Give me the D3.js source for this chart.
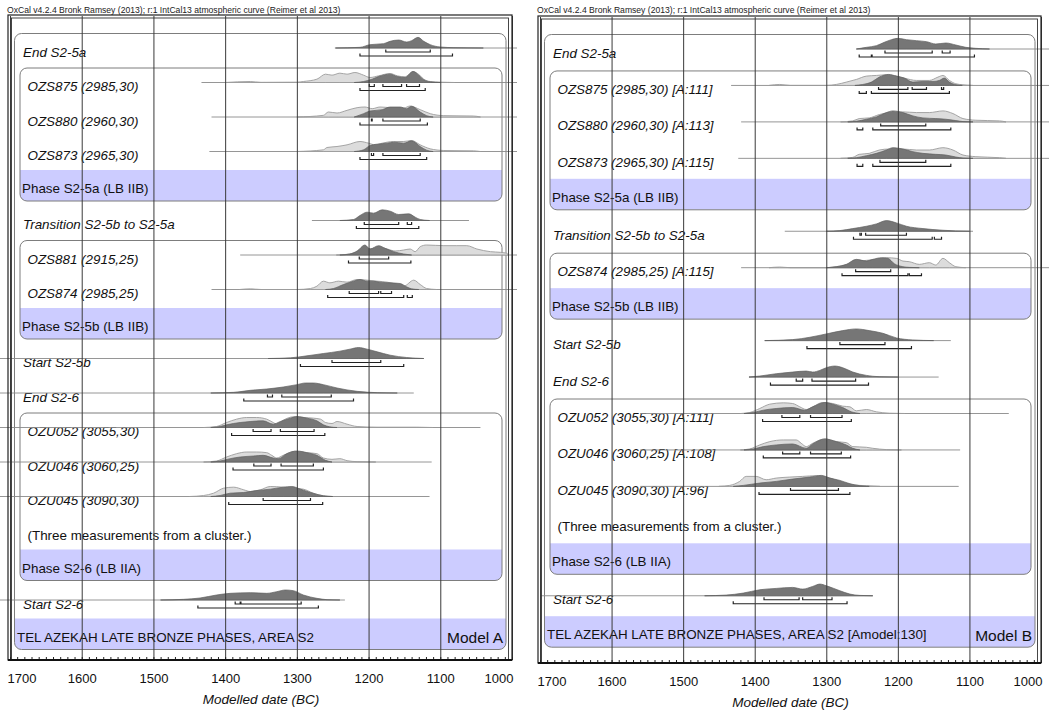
<!DOCTYPE html>
<html>
<head>
<meta charset="utf-8">
<script src="https://cdn.jsdelivr.net/npm/d3@7"></script>
<style>
  body { margin: 0; background: #fff; }
  svg { display: block; font-family: "Liberation Sans", Arial, sans-serif; }
</style>
</head>
<body>
<svg id="chart" width="1049" height="710"></svg>
<script>
// ---------- data (years BC, relative probability) ----------
const titleText = 'OxCal v4.2.4 Bronk Ramsey (2013); r:1 IntCal13 atmospheric curve (Reimer et al 2013)';
const axisYears = [1700, 1600, 1500, 1400, 1300, 1200, 1100, 1000];

// Model A
const labelsA = [
  'End S2-5a', 'OZS875 (2985,30)', 'OZS880 (2960,30)', 'OZS873 (2965,30)', 'Phase S2-5a (LB IIB)',
  'Transition S2-5b to S2-5a', 'OZS881 (2915,25)', 'OZS874 (2985,25)', 'Phase S2-5b (LB IIB)',
  'Start S2-5b', 'End S2-6', 'OZU052 (3055,30)', 'OZU046 (3060,25)', 'OZU045 (3090,30)',
  '(Three measurements from a cluster.)', 'Phase S2-6 (LB IIA)', 'Start S2-6',
  'TEL AZEKAH LATE BRONZE PHASES, AREA S2'
];
const kindsA = ['b','m','m','m','p','b','m','m','p','b','b','m','m','m','n','p','b','s'];
const boxesA = [[1, 4], [6, 8], [11, 15]];

const spanA = [
  [1247, 980], [1433, 980], [1419, 980], [1422, 980], null,
  [1279, 1060], [1379, 980], [1419, 980], null,
  [1720, 1123], [1720, 1137], [1720, 1044], [1720, 1112], [1720, 1115],
  null, null, [1720, 1233], null
];

const likeA = [
  null,
  [[1400,0],[1365,3],[1350,0.5],[1300,1],[1291,3],[1272,10],[1260,25],[1251,22],[1240,28],[1230,25],[1219,30],[1207,22],[1198,15],[1186,20],[1170,27],[1160,20],[1149,17],[1138,33],[1130,24],[1123,10],[1114,3],[1100,1],[1080,0]],
  [[1300,0],[1263,5],[1256,15],[1244,12],[1230,20],[1216,28],[1205,30],[1195,25],[1184,30],[1170,28],[1151,27],[1142,33],[1128,22],[1114,10],[1095,4],[1054,3],[1044,0]],
  [[1300,0],[1263,5],[1258,12],[1244,15],[1230,20],[1212,30],[1200,25],[1191,20],[1181,25],[1165,30],[1151,30],[1140,33],[1128,20],[1114,8],[1095,3],[1054,2],[1044,0]],
  null, null,
  [[1245,0],[1230,2],[1216,10],[1205,25],[1198,18],[1186,25],[1174,18],[1163,12],[1151,15],[1142,18],[1135,10],[1128,25],[1119,30],[1095,28],[1077,28],[1063,28],[1049,18],[1030,10],[1016,8],[1007,5],[1005,0]],
  [[1380,0],[1365,2],[1350,0],[1300,0],[1281,3],[1272,10],[1263,25],[1254,20],[1242,25],[1230,22],[1216,30],[1202,28],[1188,25],[1174,22],[1160,15],[1151,10],[1137,28],[1128,15],[1119,3],[1105,0]],
  null, null, null,
  [[1430,0],[1412,3],[1398,15],[1384,25],[1370,30],[1356,30],[1342,25],[1333,15],[1328,10],[1319,22],[1305,32],[1291,30],[1277,28],[1267,25],[1260,15],[1251,12],[1244,18],[1230,10],[1216,3],[1188,1],[1133,1],[1110,0]],
  [[1430,0],[1412,3],[1398,15],[1384,25],[1370,30],[1356,30],[1342,28],[1335,20],[1328,12],[1319,20],[1303,32],[1286,28],[1272,25],[1263,12],[1251,8],[1240,10],[1230,4],[1216,1],[1190,0]],
  [[1450,0],[1430,3],[1416,10],[1402,25],[1388,28],[1374,20],[1365,15],[1351,20],[1337,30],[1319,28],[1305,25],[1291,22],[1277,10],[1263,2],[1250,0]],
  null, null, null, null
];

const postA = [
  [[1246,0],[1212,2],[1198,10],[1179,13],[1170,20],[1158,24],[1147,18],[1140,22],[1131,32],[1123,20],[1114,10],[1100,3],[1081,1],[1040,0]],
  [[1220,0],[1207,3],[1195,10],[1186,18],[1170,25],[1160,18],[1149,15],[1138,33],[1130,22],[1123,8],[1114,2],[1100,0]],
  [[1220,0],[1216,3],[1207,10],[1198,18],[1181,22],[1170,30],[1156,30],[1147,25],[1140,32],[1128,15],[1119,4],[1110,0]],
  [[1220,0],[1207,5],[1198,18],[1188,22],[1174,25],[1165,28],[1151,25],[1140,32],[1128,15],[1119,4],[1110,0]],
  null,
  [[1240,0],[1221,3],[1212,15],[1202,25],[1193,22],[1181,32],[1170,28],[1158,18],[1144,20],[1135,10],[1128,3],[1115,0]],
  [[1240,0],[1226,3],[1216,12],[1205,30],[1198,18],[1186,28],[1177,20],[1165,10],[1151,3],[1140,0]],
  [[1260,0],[1249,3],[1235,15],[1221,25],[1212,30],[1202,25],[1193,25],[1184,22],[1170,20],[1156,18],[1147,8],[1140,2],[1130,0]],
  null,
  [[1340,0],[1309,2],[1286,8],[1263,15],[1240,22],[1226,28],[1214,33],[1202,28],[1188,20],[1170,10],[1147,3],[1123,0]],
  [[1420,0],[1388,2],[1365,8],[1342,12],[1319,18],[1300,25],[1288,30],[1277,30],[1263,25],[1244,15],[1216,5],[1188,1],[1160,0]],
  [[1420,0],[1407,3],[1398,8],[1379,15],[1365,18],[1347,20],[1333,10],[1323,18],[1309,28],[1300,33],[1286,28],[1272,20],[1263,8],[1254,2],[1244,0]],
  [[1420,0],[1407,3],[1393,10],[1379,15],[1360,18],[1347,20],[1333,12],[1326,10],[1314,25],[1300,33],[1286,28],[1272,20],[1260,5],[1251,0]],
  [[1420,0],[1407,3],[1393,10],[1374,12],[1356,18],[1337,22],[1319,28],[1307,30],[1295,22],[1281,12],[1263,2],[1250,0]],
  null, null,
  [[1490,0],[1458,2],[1435,6],[1412,15],[1393,20],[1365,22],[1342,20],[1328,25],[1316,30],[1305,28],[1291,15],[1272,5],[1258,1],[1240,0]],
  null
];

const r68A = [
  [[1176,1114]], [[1199,1192],[1180,1154],[1147,1129]], [[1196,1195],[1180,1128]], [[1196,1193],[1180,1128]], null,
  [[1206,1158],[1146,1140]], [[1213,1172]], [[1227,1186],[1183,1168]], null,
  [[1251,1183]], [[1341,1334],[1321,1252]], [[1361,1336],[1323,1276]], [[1360,1336],[1322,1277]], [[1347,1281]],
  null, null, [[1386,1379],[1378,1294]], null
];
const r95A = [
  [[1212,1083]], [[1212,1121]], [[1212,1118]], [[1212,1119]], null,
  [[1217,1130]], [[1228,1141]], [[1257,1151],[1146,1139]], null,
  [[1295,1151]], [[1374,1221]], [[1391,1261]], [[1389,1263]], [[1395,1264]],
  null, null, [[1438,1270]], null
];

// Model B
const labelsB = [
  'End S2-5a', 'OZS875 (2985,30) [A:111]', 'OZS880 (2960,30) [A:113]', 'OZS873 (2965,30) [A:115]',
  'Phase S2-5a (LB IIB)', 'Transition S2-5b to S2-5a', 'OZS874 (2985,25) [A:115]', 'Phase S2-5b (LB IIB)',
  'Start S2-5b', 'End S2-6', 'OZU052 (3055,30) [A:111]', 'OZU046 (3060,25) [A:108]', 'OZU045 (3090,30) [A:96]',
  '(Three measurements from a cluster.)', 'Phase S2-6 (LB IIA)', 'Start S2-6',
  'TEL AZEKAH LATE BRONZE PHASES, AREA S2 [Amodel:130]'
];
const kindsB = ['b','m','m','m','p','b','m','p','b','b','m','m','m','n','p','b','s'];
const boxesB = [[1, 4], [6, 7], [10, 14]];

const spanB = [
  [1258, 960], [1433, 960], [1419, 960], [1423, 960], null,
  [1358, 1095], [1419, 960], null,
  [1386, 1126], [1408, 1143], [1560, 1045], [1560, 1113], [1560, 1115],
  null, null, [1720, 1235], null
];

const likeB = [
  null,
  [[1380,0],[1365,3],[1350,0],[1300,0],[1286,3],[1272,10],[1258,18],[1244,28],[1230,30],[1216,32],[1202,28],[1191,22],[1174,15],[1156,15],[1144,25],[1137,30],[1128,15],[1119,5],[1109,2],[1095,0]],
  [[1280,0],[1263,3],[1254,10],[1240,12],[1226,22],[1212,28],[1193,30],[1174,28],[1156,28],[1137,33],[1123,25],[1109,10],[1091,5],[1058,3],[1049,0]],
  [[1280,0],[1263,3],[1254,12],[1240,15],[1226,25],[1212,28],[1193,28],[1174,25],[1156,25],[1137,32],[1123,25],[1109,10],[1091,5],[1058,2],[1049,0]],
  null, null,
  [[1380,0],[1365,2],[1350,0],[1300,0],[1291,2],[1272,8],[1258,18],[1244,22],[1230,25],[1216,30],[1202,28],[1193,20],[1184,18],[1170,10],[1156,15],[1147,8],[1137,28],[1128,15],[1119,3],[1105,0]],
  null, null, null,
  [[1420,0],[1407,3],[1393,15],[1379,28],[1360,32],[1347,30],[1337,20],[1328,12],[1319,20],[1305,33],[1291,30],[1277,22],[1267,20],[1258,8],[1244,12],[1230,5],[1212,1],[1190,0]],
  [[1420,0],[1407,3],[1393,15],[1379,25],[1360,30],[1342,30],[1335,20],[1328,10],[1319,20],[1302,33],[1286,25],[1272,22],[1263,10],[1244,8],[1235,5],[1216,1],[1195,0]],
  [[1450,0],[1435,3],[1421,15],[1412,30],[1398,30],[1384,20],[1370,25],[1351,28],[1333,30],[1314,32],[1300,28],[1281,15],[1263,5],[1244,2],[1225,0]],
  null, null, null, null
];

const postB = [
  [[1258,0],[1244,5],[1230,10],[1219,20],[1209,28],[1200,32],[1188,28],[1174,25],[1160,22],[1147,15],[1133,18],[1119,12],[1105,5],[1091,2],[1072,0]],
  [[1260,0],[1249,3],[1237,10],[1226,25],[1213,33],[1202,28],[1191,22],[1179,10],[1165,12],[1151,12],[1142,15],[1135,22],[1128,10],[1121,3],[1110,0]],
  [[1270,0],[1258,2],[1244,8],[1230,15],[1216,28],[1207,33],[1193,28],[1179,18],[1165,12],[1147,10],[1133,8],[1119,4],[1109,1],[1095,0]],
  [[1270,0],[1258,2],[1244,8],[1230,15],[1216,25],[1207,32],[1193,28],[1179,20],[1165,15],[1147,12],[1133,10],[1119,4],[1109,1],[1095,0]],
  null,
  [[1300,0],[1281,2],[1263,8],[1244,15],[1230,22],[1216,32],[1202,25],[1188,15],[1165,8],[1137,3],[1119,1],[1100,0]],
  [[1300,0],[1286,3],[1272,10],[1258,25],[1244,20],[1235,25],[1223,30],[1214,28],[1205,12],[1193,3],[1184,1],[1170,0]],
  null,
  [[1386,0],[1347,3],[1323,10],[1300,20],[1277,30],[1258,35],[1240,30],[1221,22],[1202,8],[1179,2],[1150,0]],
  [[1408,0],[1393,3],[1370,10],[1347,15],[1328,18],[1319,15],[1309,20],[1300,28],[1288,33],[1277,28],[1263,15],[1244,5],[1226,1],[1200,0]],
  [[1415,0],[1402,3],[1388,10],[1370,15],[1347,18],[1330,10],[1319,20],[1302,33],[1291,28],[1277,18],[1265,5],[1253,0]],
  [[1415,0],[1402,3],[1388,10],[1370,15],[1347,18],[1328,5],[1319,18],[1302,33],[1286,25],[1272,15],[1263,5],[1253,0]],
  [[1430,0],[1416,3],[1393,10],[1370,15],[1347,22],[1323,28],[1307,33],[1295,25],[1281,18],[1267,8],[1253,2],[1240,0]],
  null, null,
  [[1470,0],[1440,2],[1416,8],[1393,18],[1370,22],[1347,25],[1333,20],[1319,28],[1309,35],[1300,30],[1281,15],[1267,5],[1253,1],[1235,0]],
  null
];

const r68B = [
  [[1218,1152],[1138,1127]], [[1227,1186],[1180,1160],[1139,1136]], [[1224,1161]], [[1225,1161]], null,
  [[1253,1251],[1245,1188]], [[1259,1210]], null,
  [[1281,1218]], [[1342,1333],[1320,1259]], [[1362,1337],[1322,1278]], [[1361,1337],[1322,1279]], [[1350,1283]],
  null, null, [[1387,1338],[1333,1292]], null
];
const r95B = [
  [[1254,1237],[1236,1093]], [[1254,1244],[1237,1128]], [[1257,1249],[1235,1126]], [[1257,1249],[1235,1126]], null,
  [[1262,1152],[1149,1139]], [[1278,1186],[1184,1167]], null,
  [[1327,1181]], [[1378,1241]], [[1389,1265]], [[1388,1266]], [[1394,1267]],
  null, null, [[1430,1271]], null
];

// ---------- drawing ----------
const svg = d3.select('#chart');

function drawPanel(cfg, d) {
  const g = svg.append('g');
  const n = d.labels.length;
  const x = d3.scaleLinear().domain([1700, 1000]).range([cfg.x0, cfg.x1]);
  const row = d3.scaleBand().domain(d3.range(n)).range([cfg.rowTop, cfg.rowTop + n * cfg.pitch]);
  const h = d3.scaleLinear().domain([0, 33]).range([0, 11]);
  const base = i => row(i) + 16;
  const bandH = 31;

  const outer = { x: cfg.x0 + 4.5, r: cfg.x1 - 6, y0: row(0) + 1.5, y1: row(n - 1) + bandH };
  const inner = { x: cfg.x0 + 10, r: cfg.x1 - 10 };

  // title
  svg.append('text').attr('x', cfg.x0 - 3).attr('y', 13)
     .attr('font-size', 8.6).attr('fill', '#222').text(titleText);

  // boxes with clipped bands
  const boxes = [{ x: outer.x, r: outer.r, y0: outer.y0, y1: outer.y1, band: n - 1 }]
    .concat(d.boxes.map(b => ({ x: inner.x, r: inner.r, y0: row(b[0]) + 1.5, y1: row(b[1]) + bandH, band: b[1] })));

  boxes.forEach((b, k) => {
    const id = cfg.id + '-clip' + k;
    g.append('clipPath').attr('id', id).append('rect')
     .attr('x', b.x).attr('y', b.y0).attr('width', b.r - b.x).attr('height', b.y1 - b.y0).attr('rx', 7);
    g.append('rect').attr('clip-path', `url(#${id})`)
     .attr('x', b.x).attr('y', row(b.band)).attr('width', b.r - b.x).attr('height', bandH)
     .attr('fill', '#ccccff');
    g.append('rect')
     .attr('x', b.x).attr('y', b.y0).attr('width', b.r - b.x).attr('height', b.y1 - b.y0).attr('rx', 7)
     .attr('fill', 'none').attr('stroke', '#7d7d7d').attr('stroke-width', 1);
  });

  // labels
  const labelX = { b: 13, m: 17.5, n: 17.5, p: 12, s: 7 };
  g.selectAll('text.lab').data(d.labels).join('text')
    .attr('class', 'lab')
    .attr('x', (t, i) => cfg.x0 + labelX[d.kinds[i]])
    .attr('y', (t, i) => row(i) + (d.kinds[i] === 'p' || d.kinds[i] === 's' ? 23 : 24.5))
    .attr('font-size', 13.4)
    .attr('font-style', (t, i) => (d.kinds[i] === 'b' || d.kinds[i] === 'm') ? 'italic' : 'normal')
    .attr('fill', '#111')
    .text(t => t);

  g.append('text').attr('x', outer.r - 3).attr('y', row(n - 1) + 24.5)
   .attr('text-anchor', 'end').attr('font-size', 15.5).attr('fill', '#111').text(cfg.model);

  // baselines
  const clampX = v => Math.max(cfg.clipL, Math.min(cfg.clipR, v));
  d.span.forEach((s, i) => {
    if (!s) return;
    g.append('line').attr('x1', clampX(x(s[0]))).attr('x2', clampX(x(s[1])))
     .attr('y1', base(i)).attr('y2', base(i)).attr('stroke', '#8a8a8a').attr('stroke-width', 0.9);
  });

  // distributions
  const area = i => d3.area().curve(d3.curveMonotoneX)
    .x(p => x(p[0])).y0(base(i)).y1(p => base(i) - h(p[1]));

  d.like.forEach((pts, i) => {
    if (!pts) return;
    g.append('path').attr('d', area(i)(pts))
     .attr('fill', '#dcdcdc').attr('stroke', '#9c9c9c').attr('stroke-width', 0.9);
  });
  d.post.forEach((pts, i) => {
    if (!pts) return;
    g.append('path').attr('d', area(i)(pts))
     .attr('fill', '#767676').attr('stroke', '#5e5e5e').attr('stroke-width', 0.7);
  });

  // range brackets
  const bracket = (rs, y) => rs.map(r =>
    `M${x(r[0])},${y - 2.5}V${y}H${x(r[1])}V${y - 2.5}`).join('');
  [[d.r68, 4], [d.r95, 8]].forEach(([arr, off]) => {
    arr.forEach((rs, i) => {
      if (!rs) return;
      g.append('path').attr('d', bracket(rs, base(i) + off))
       .attr('fill', 'none').attr('stroke', '#222').attr('stroke-width', 1.2);
    });
  });

  // gridlines + tick labels
  const ax = g.append('g').attr('transform', `translate(0,${cfg.axisY})`)
    .call(d3.axisBottom(x).tickValues(axisYears)
      .tickSizeInner(-(cfg.axisY - cfg.top)).tickSizeOuter(0).tickPadding(13.5)
      .tickFormat(d3.format('d')));
  ax.select('.domain').remove();
  ax.selectAll('line').attr('stroke', '#3a3a3a').attr('stroke-width', 1);
  ax.selectAll('text').attr('font-size', 13).attr('fill', '#111')
    .attr('font-family', '"Liberation Sans", Arial, sans-serif');
  ax.selectAll('.tick').filter(v => v === 1700).select('text').attr('text-anchor', 'start').attr('x', -3);
  ax.selectAll('.tick').filter(v => v === 1000).select('text').attr('text-anchor', 'end').attr('x', 1);

  // minor ticks
  const minor = g.append('g').attr('transform', `translate(0,${cfg.axisY})`)
    .call(d3.axisBottom(x).tickValues(d3.range(1000, 1701, 10)).tickSize(-3).tickFormat(''));
  minor.select('.domain').remove();
  minor.selectAll('line').attr('stroke', '#222');

  // frame
  g.append('rect').attr('x', cfg.x0 - 2).attr('y', cfg.top - 1)
   .attr('width', cfg.x1 - cfg.x0 + 2).attr('height', cfg.axisY - cfg.top + 1)
   .attr('fill', 'none').attr('stroke', '#222').attr('stroke-width', 1.2);
  g.append('rect').attr('x', cfg.x0 + 1.5).attr('y', cfg.top + 2)
   .attr('width', cfg.x1 - cfg.x0 - 5).attr('height', cfg.axisY - cfg.top - 2)
   .attr('fill', 'none').attr('stroke', '#333').attr('stroke-width', 0.9);
  g.append('line').attr('x1', cfg.x0 - 2).attr('x2', cfg.x1)
   .attr('y1', cfg.axisY).attr('y2', cfg.axisY).attr('stroke', '#111').attr('stroke-width', 1.8);

  // axis title
  g.append('text').attr('x', (cfg.x0 + cfg.x1) / 2).attr('y', cfg.axisY + 44)
   .attr('text-anchor', 'middle').attr('font-size', 13.5).attr('font-style', 'italic')
   .attr('fill', '#111').text('Modelled date (BC)');
}

drawPanel(
  { id: 'A', x0: 10, x1: 512, top: 16, rowTop: 32, pitch: 34.5, axisY: 660, clipL: 0, clipR: 517, model: 'Model A' },
  { labels: labelsA, kinds: kindsA, boxes: boxesA, span: spanA, like: likeA, post: postA, r68: r68A, r95: r95A }
);
drawPanel(
  { id: 'B', x0: 540, x1: 1041, top: 17, rowTop: 33, pitch: 36.45, axisY: 663, clipL: 540, clipR: 1049, model: 'Model B' },
  { labels: labelsB, kinds: kindsB, boxes: boxesB, span: spanB, like: likeB, post: postB, r68: r68B, r95: r95B }
);
</script>
</body>
</html>
